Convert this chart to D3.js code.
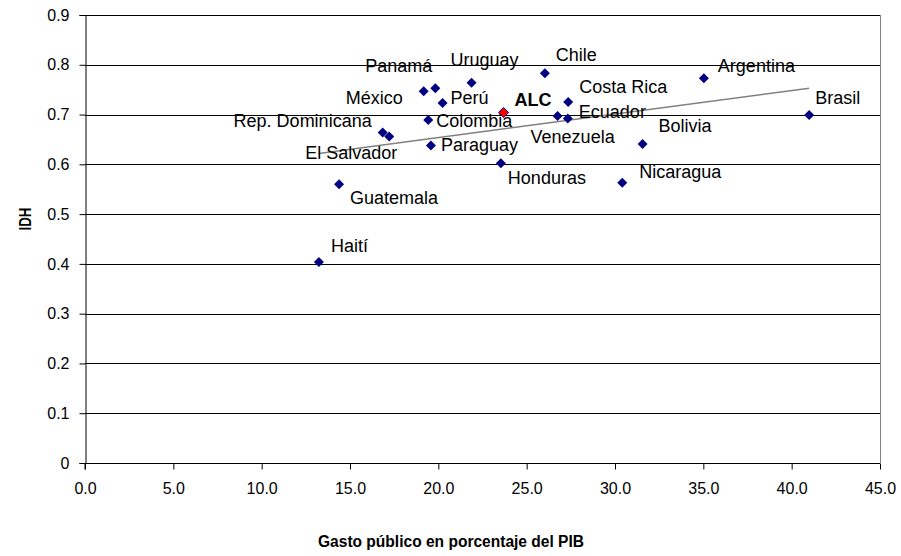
<!DOCTYPE html>
<html><head><meta charset="utf-8">
<script src="https://cdn.jsdelivr.net/npm/d3@7"></script>
<style>
body{margin:0;background:#fff;}
svg{display:block;font-family:"Liberation Sans",Arial,sans-serif;}
</style></head>
<body><svg id="c" width="901" height="556"></svg>
<script>
const countries = ["Haití","Guatemala","Rep. Dominicana","El Salvador","México","Panamá","Perú","Colombia","Paraguay","Uruguay","ALC","Honduras","Chile","Venezuela","Costa Rica","Ecuador","Nicaragua","Bolivia","Argentina","Brasil"];
const gasto = [13.24,14.38,16.85,17.22,19.17,19.83,20.24,19.43,19.58,21.88,23.69,23.54,26.03,26.75,27.35,27.33,30.41,31.56,35.03,40.99];
const idh = [0.404,0.560,0.664,0.656,0.747,0.753,0.723,0.689,0.638,0.764,0.704,0.602,0.783,0.697,0.725,0.692,0.563,0.641,0.773,0.699];
const trendX = [13.24,40.99];
const trendY = [0.622,0.753];
const xTicks = [0,5,10,15,20,25,30,35,40,45];
const yTicks = [0,0.1,0.2,0.3,0.4,0.5,0.6,0.7,0.8,0.9];

// label placement (layout, not data): anchor, dx, dy relative to the point
const labelPos = {
  "Haití":["start",12,-10],
  "Guatemala":["start",11,20],
  "Rep. Dominicana":["end",-11,-5],
  "El Salvador":["end",8,23],
  "México":["end",-21,13],
  "Panamá":["end",-3,-16],
  "Perú":["start",8,1],
  "Colombia":["start",8,7],
  "Paraguay":["start",10,6],
  "Uruguay":["middle",13,-17],
  "ALC":["start",11,-7],
  "Honduras":["start",7,21],
  "Chile":["start",11,-12],
  "Venezuela":["start",-27,27],
  "Costa Rica":["start",11,-9],
  "Ecuador":["start",11,-1],
  "Nicaragua":["start",17,-5],
  "Bolivia":["start",16,-12],
  "Argentina":["start",14,-6],
  "Brasil":["start",6,-11]
};

const svg = d3.select("#c");
const x = d3.scaleLinear().domain([0,45]).range([85,880]);
const y = d3.scaleLinear().domain([0,0.9]).range([463,15]);

// gridlines
svg.append("g").selectAll("line").data(yTicks.filter(d=>d>0)).join("line")
  .attr("x1",x(0)).attr("x2",x(45))
  .attr("y1",d=>Math.round(y(d))+0.5).attr("y2",d=>Math.round(y(d))+0.5)
  .attr("stroke","#000").attr("stroke-width",1);

// right border
svg.append("line").attr("x1",Math.round(x(45))+0.5).attr("x2",Math.round(x(45))+0.5)
  .attr("y1",Math.round(y(0.9))).attr("y2",Math.round(y(0)))
  .attr("stroke","#808080").attr("stroke-width",1);

// axes
const fmtY = d => d===0 ? "0" : d3.format(".1f")(d);
const yAxis = svg.append("g").attr("transform",`translate(${Math.round(x(0))+0.5},0)`)
  .call(d3.axisLeft(y).tickValues(yTicks).tickFormat(fmtY).tickSize(6).tickPadding(10));
const xAxis = svg.append("g").attr("transform",`translate(0,${Math.round(y(0))+0.5})`)
  .call(d3.axisBottom(x).tickValues(xTicks).tickFormat(d3.format(".1f")).tickSize(6).tickPadding(13));
[yAxis,xAxis].forEach(a=>{
  a.select(".domain").attr("stroke","#000");
  a.selectAll(".tick line").attr("stroke","#000");
  a.selectAll(".tick text").attr("fill","#000").style("font-size","16px").style("font-family","'Liberation Sans',Arial,sans-serif");
});
xAxis.select(".domain").attr("d",`M${x(0)},6V0H${x(45)}V0`);

// trendline
svg.append("line")
  .attr("x1",x(trendX[0])).attr("y1",y(trendY[0]))
  .attr("x2",x(trendX[1])).attr("y2",y(trendY[1]))
  .attr("stroke","#808080").attr("stroke-width",1.5);

// points
const pts = countries.map((c,i)=>({c, gx:gasto[i], iy:idh[i]}));
const r = 5;
svg.append("g").selectAll("path").data(pts).join("path")
  .attr("d",d=>{const cx=x(d.gx), cy=y(d.iy); return `M${cx},${cy-r}L${cx+r},${cy}L${cx},${cy+r}L${cx-r},${cy}Z`;})
  .attr("fill",d=>d.c==="ALC"?"#ff0000":"#000080")
  .attr("stroke",d=>d.c==="ALC"?"#000080":"none")
  .attr("stroke-width",1);

// labels
svg.append("g").selectAll("text").data(pts).join("text")
  .attr("x",d=>x(d.gx)+labelPos[d.c][1])
  .attr("y",d=>y(d.iy)+labelPos[d.c][2])
  .attr("text-anchor",d=>labelPos[d.c][0])
  .attr("font-size","18px")
  .attr("font-weight",d=>d.c==="ALC"?"bold":"normal")
  .attr("fill","#000")
  .text(d=>d.c);

// axis titles
svg.append("text").attr("x",451).attr("y",547).attr("text-anchor","middle")
  .attr("font-size","16px").attr("font-weight","bold")
  .attr("textLength",266).attr("lengthAdjust","spacingAndGlyphs")
  .text("Gasto público en porcentaje del PIB");
svg.append("text").attr("transform","translate(31,219) rotate(-90)").attr("text-anchor","middle")
  .attr("font-size","16px").attr("font-weight","bold")
  .attr("textLength",23).attr("lengthAdjust","spacingAndGlyphs")
  .text("IDH");
</script></body></html>
